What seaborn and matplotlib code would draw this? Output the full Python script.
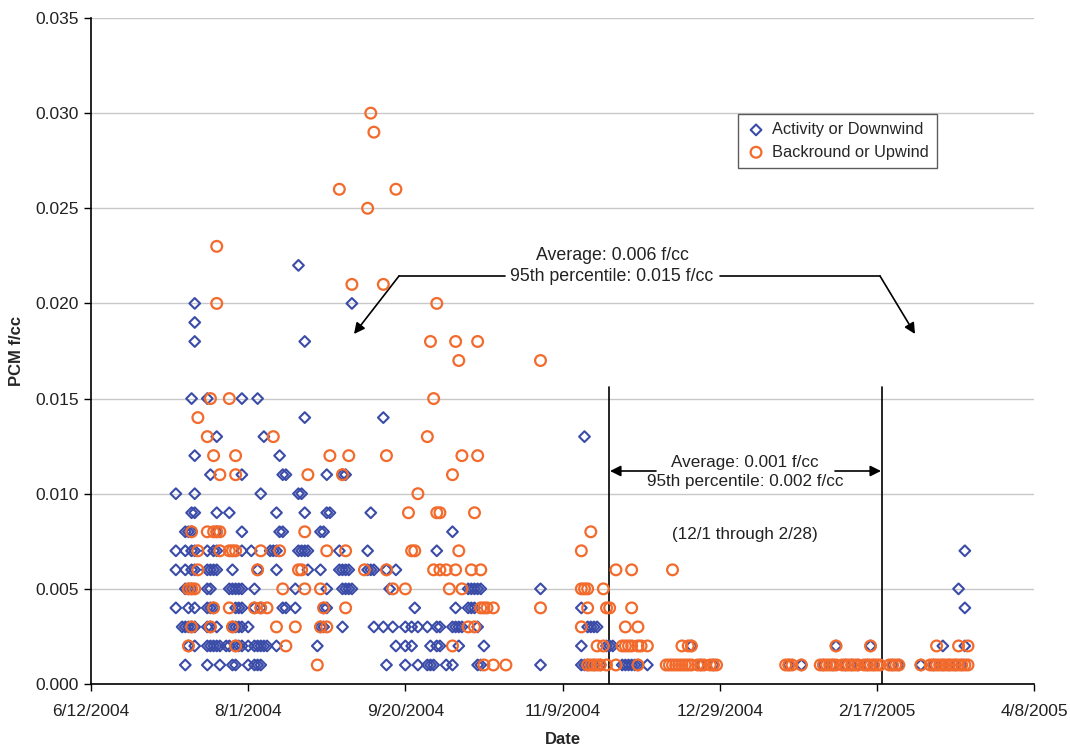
import matplotlib
matplotlib.use("Agg")
import matplotlib.pyplot as plt
import seaborn as sns
import pandas as pd

# Dates are Excel serial numbers (38150 = 6/12/2004), one list per PCM level
act_levels = [0.022, 0.020, 0.019, 0.018, 0.015, 0.014, 0.013, 0.012, 0.011, 0.010,
              0.009, 0.008, 0.007, 0.006, 0.005, 0.004, 0.003, 0.002, 0.001]
act_serials = [
    [38216],
    [38183, 38233],
    [38183],
    [38183, 38218],
    [38182, 38187, 38198, 38203],
    [38218, 38243],
    [38190, 38205, 38307],
    [38183, 38210],
    [38188, 38198, 38211, 38212, 38225, 38230, 38231],
    [38177, 38183, 38204, 38216, 38217],
    [38182, 38183, 38190, 38194, 38209, 38218, 38225, 38226, 38239],
    [38180, 38181, 38182, 38190, 38198, 38210, 38211, 38223, 38224, 38265],
    [38177, 38180, 38182, 38183, 38187, 38189, 38190, 38198, 38201, 38207, 38208, 38209,
     38216, 38217, 38218, 38219, 38229, 38238, 38260, 38428],
    [38177, 38180, 38182, 38183, 38187, 38188, 38189, 38190, 38195, 38203, 38209, 38219,
     38223, 38229, 38230, 38231, 38232, 38238, 38239, 38240, 38244, 38247],
    [38180, 38181, 38182, 38187, 38188, 38194, 38195, 38196, 38197, 38198, 38202, 38215,
     38225, 38230, 38231, 38232, 38233, 38245, 38270, 38271, 38272, 38273, 38274, 38293, 38426],
    [38177, 38181, 38183, 38187, 38188, 38189, 38196, 38197, 38198, 38202, 38204, 38211,
     38212, 38215, 38224, 38225, 38253, 38266, 38270, 38271, 38272, 38306, 38428],
    [38179, 38180, 38181, 38182, 38183, 38187, 38188, 38190, 38195, 38196, 38197, 38198,
     38200, 38223, 38224, 38230, 38240, 38243, 38246, 38250, 38252, 38254, 38257, 38260,
     38261, 38265, 38266, 38267, 38268, 38273, 38308, 38309, 38310, 38311],
    [38181, 38183, 38187, 38188, 38189, 38190, 38191, 38193, 38194, 38196, 38197, 38198,
     38200, 38202, 38203, 38204, 38205, 38206, 38209, 38222, 38247, 38250, 38252, 38258,
     38260, 38261, 38267, 38275, 38306, 38314, 38315, 38316, 38341, 38387, 38398, 38421, 38428],
    [38180, 38187, 38191, 38195, 38196, 38200, 38202, 38203, 38204, 38244, 38250, 38254,
     38257, 38258, 38259, 38263, 38265, 38273, 38274, 38293, 38306, 38307, 38308, 38310,
     38312, 38319, 38320, 38321, 38322, 38323, 38324, 38327, 38344, 38348, 38372, 38376,
     38383, 38386, 38390, 38392, 38394, 38397, 38399, 38405, 38407, 38414, 38418, 38421,
     38423, 38425, 38427],
]

bkg_levels = [0.030, 0.029, 0.026, 0.025, 0.023, 0.021, 0.020, 0.018, 0.017, 0.015,
              0.014, 0.013, 0.012, 0.011, 0.010, 0.009, 0.008, 0.007, 0.006, 0.005,
              0.004, 0.003, 0.002, 0.001]
bkg_serials = [
    [38239],
    [38240],
    [38229, 38247],
    [38238],
    [38190],
    [38233, 38243],
    [38190, 38260],
    [38258, 38266, 38273],
    [38267, 38293],
    [38188, 38194, 38259],
    [38184],
    [38187, 38208, 38257],
    [38189, 38196, 38226, 38232, 38244, 38268, 38273],
    [38191, 38196, 38219, 38230, 38265],
    [38254],
    [38251, 38260, 38261, 38272],
    [38182, 38187, 38189, 38190, 38191, 38218, 38309],
    [38184, 38191, 38194, 38195, 38196, 38204, 38210, 38225, 38231, 38252, 38253, 38267, 38306],
    [38184, 38203, 38216, 38217, 38237, 38244, 38259, 38261, 38263, 38266, 38271, 38274,
     38317, 38322, 38335],
    [38181, 38182, 38183, 38211, 38218, 38223, 38246, 38250, 38264, 38268, 38306, 38307,
     38308, 38313],
    [38189, 38194, 38202, 38204, 38206, 38224, 38231, 38274, 38275, 38276, 38278, 38293,
     38308, 38314, 38315, 38322],
    [38182, 38188, 38195, 38209, 38215, 38223, 38225, 38270, 38272, 38306, 38320, 38324],
    [38181, 38196, 38212, 38265, 38311, 38313, 38319, 38320, 38321, 38322, 38324, 38325,
     38327, 38338, 38340, 38341, 38387, 38398, 38419, 38426, 38429],
    [38222, 38275, 38278, 38282, 38308, 38309, 38310, 38311, 38312, 38314, 38317, 38324,
     38333, 38334, 38335, 38336, 38337, 38338, 38339, 38340, 38341, 38343, 38344, 38345,
     38347, 38348, 38349, 38371, 38372, 38373, 38376, 38382, 38383, 38384, 38385, 38386,
     38387, 38389, 38390, 38391, 38392, 38393, 38394, 38396, 38397, 38398, 38399, 38400,
     38401, 38404, 38405, 38406, 38407, 38414, 38417, 38418, 38419, 38420, 38421, 38422,
     38423, 38424, 38425, 38426, 38427, 38428, 38429],
]

x_ticks = ["6/12/2004", "8/1/2004", "9/20/2004", "11/9/2004", "12/29/2004", "2/17/2005", "4/8/2005"]
y_ticks = [0.000, 0.005, 0.010, 0.015, 0.020, 0.025, 0.030, 0.035]

BLUE = "#3B4CA8"
ORANGE = "#F26B2C"


def to_frame(levels, serials):
    rows = [(s, lv) for lv, ss in zip(levels, serials) for s in ss]
    df = pd.DataFrame(rows, columns=["serial", "pcm"])
    df["date"] = pd.to_datetime(df["serial"], unit="D", origin="1899-12-30")
    return df


act = to_frame(act_levels, act_serials)
bkg = to_frame(bkg_levels, bkg_serials)

sns.set_theme(style="white")
plt.rcParams["font.family"] = ["Liberation Sans", "DejaVu Sans"]

fig = plt.figure(figsize=(10.7, 7.46), dpi=100)
ax = fig.add_axes([91 / 1070, 62 / 746, 943 / 1070, 666 / 746])

sns.scatterplot(data=act, x="date", y="pcm", marker="D", s=30, color=BLUE,
                facecolor="none", edgecolor=BLUE, linewidth=1.5, ax=ax,
                label="Activity or Downwind", zorder=3)
sns.scatterplot(data=bkg, x="date", y="pcm", marker="o", s=60, color=ORANGE,
                facecolor="none", edgecolor=ORANGE, linewidth=1.6, ax=ax,
                label="Backround or Upwind", zorder=4)

tick_dates = pd.to_datetime(x_ticks, format="%m/%d/%Y")
ax.set_xlim(tick_dates[0], tick_dates[-1])
ax.set_xticks(tick_dates)
ax.set_xticklabels(x_ticks)
ax.set_ylim(0, 0.035)
ax.set_yticks(y_ticks)
ax.set_yticklabels([f"{v:.3f}" for v in y_ticks])

ax.yaxis.grid(True, color="#C8C8C8", lw=1)
ax.xaxis.grid(False)
ax.set_axisbelow(True)
for side in ["top", "right"]:
    ax.spines[side].set_visible(False)
for side in ["left", "bottom"]:
    ax.spines[side].set_color("black")
    ax.spines[side].set_linewidth(1.2)
ax.tick_params(axis="both", direction="out", length=5, width=1, color="black",
               labelsize=12.5, labelcolor="#222222", left=True, bottom=True)
ax.tick_params(axis="x", pad=9.5)
ax.tick_params(axis="y", pad=4)

ax.set_xlabel("Date", fontweight="bold", fontsize=12, labelpad=9.5)
ax.set_ylabel("PCM f/cc", fontweight="bold", fontsize=12, labelpad=8)

leg = ax.legend(loc="upper left", bbox_to_anchor=((738 - 91) / 943, (684 - 114) / 666),
                frameon=True, fancybox=False, fontsize=11.8, handletextpad=0.35,
                borderpad=0.5, labelspacing=0.45, handlelength=1.2, borderaxespad=0)
leg.get_frame().set_edgecolor("#333333")
leg.get_frame().set_linewidth(1)


def axp(px, py):
    # figure pixel position -> axes fraction
    return ((px - 91) / 943, (684 - py) / 666)


arrow = dict(arrowstyle="-|>", color="black", lw=1.2, mutation_scale=16, shrinkA=0, shrinkB=0)
tr = ax.transAxes

# upper annotation
ax.text(*axp(612, 266), "Average: 0.006 f/cc\n95th percentile: 0.015 f/cc", transform=tr,
        ha="center", va="center", fontsize=12.8, linespacing=1.35, color="#222222")
for seg in [((505, 276), (399, 276)), ((720, 276), (880, 276))]:
    (x0, y0), (x1, y1) = axp(*seg[0]), axp(*seg[1])
    ax.plot([x0, x1], [y0, y1], color="black", lw=1.2, transform=tr)
ax.annotate("", xy=axp(354, 334), xytext=axp(399, 276), xycoords=tr, textcoords=tr, arrowprops=arrow)
ax.annotate("", xy=axp(915, 334), xytext=axp(880, 276), xycoords=tr, textcoords=tr, arrowprops=arrow)

# winter period annotation
for px in [609, 882]:
    (x0, y0), (x1, y1) = axp(px, 387), axp(px, 684)
    ax.plot([x0, x1], [y0, y1], color="black", lw=1.2, transform=tr)
ax.annotate("", xy=axp(610, 471), xytext=axp(656, 471), xycoords=tr, textcoords=tr, arrowprops=arrow)
ax.annotate("", xy=axp(881, 471), xytext=axp(835, 471), xycoords=tr, textcoords=tr, arrowprops=arrow)
ax.text(*axp(745, 472), "Average: 0.001 f/cc\n95th percentile: 0.002 f/cc", transform=tr,
        ha="center", va="center", fontsize=12.3, linespacing=1.3, color="#222222")
ax.text(*axp(745, 535), "(12/1 through 2/28)", transform=tr,
        ha="center", va="center", fontsize=12.3, color="#222222")

fig.savefig("out.png", dpi=100)
